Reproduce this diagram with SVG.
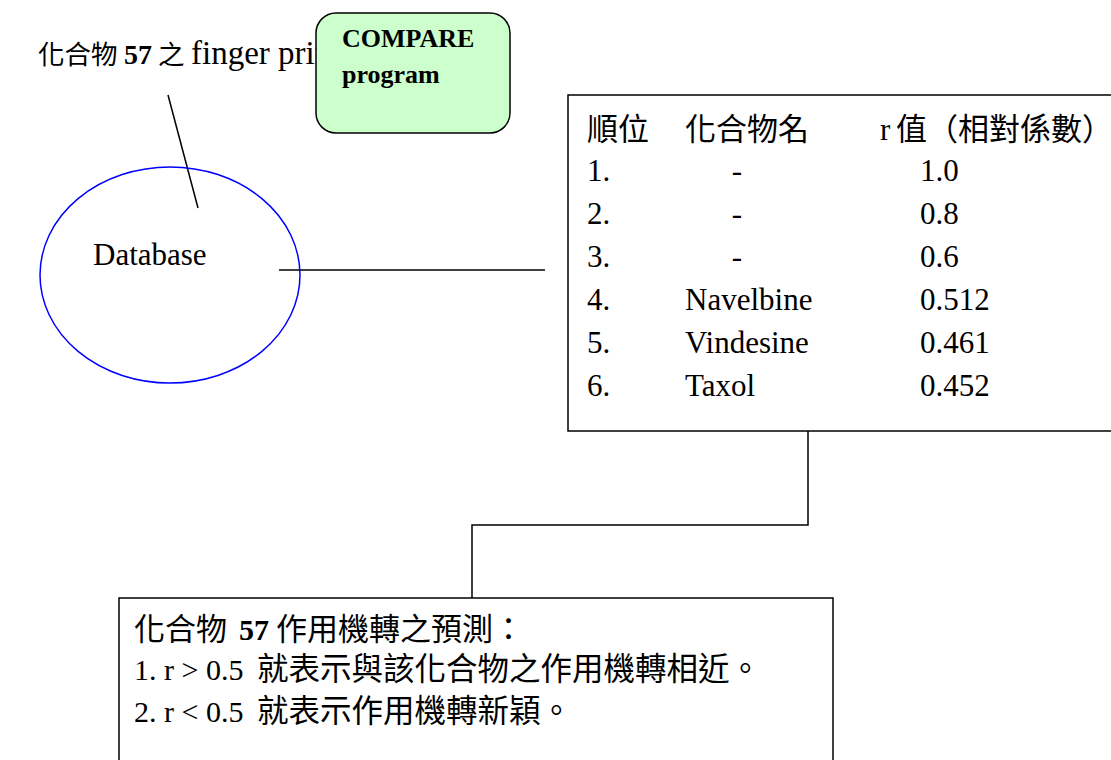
<svg xmlns="http://www.w3.org/2000/svg" width="1111" height="760" viewBox="0 0 1111 760">
<style>
.t{font-family:"Liberation Serif","Noto Sans CJK TC",serif;fill:#000}
.c{font-family:"Noto Sans CJK TC","Noto Sans CJK SC",sans-serif;fill:#000}
.b{font-weight:bold}
.ln{stroke:#000;stroke-width:1.5;fill:none}
</style>
<rect width="1111" height="760" fill="#fff"/>
<g id="title">
<text class="c" x="38" y="64" font-size="26.5">化合物</text>
<text class="t b" x="124" y="64" font-size="28">57</text>
<text class="c" x="158" y="64" font-size="26.5">之</text>
<text class="t" x="191" y="64" font-size="33">finger print</text>
</g>
<g id="connectors">
<line class="ln" x1="168" y1="95" x2="198" y2="208"/>
<line class="ln" x1="279" y1="270" x2="545" y2="270"/>
<polyline class="ln" points="808,431 808,525 472,525 472,598"/>
</g>
<g id="compare">
<rect x="316" y="13" width="194" height="120" rx="20" fill="#ccffcc" stroke="#000" stroke-width="1.5"/>
<text class="t b" x="342" y="47" font-size="26">COMPARE</text>
<text class="t b" x="342" y="83" font-size="26">program</text>
</g>
<g id="database">
<ellipse cx="170" cy="275" rx="130" ry="108" fill="none" stroke="#0000ff" stroke-width="1.5"/>
<text class="t" x="93" y="265" font-size="31">Database</text>
</g>
<g id="table">
<rect x="568" y="95" width="560" height="336" fill="#fff" stroke="#000" stroke-width="1.5"/>
<g font-size="31">
<text class="c" x="587" y="140">順位</text>
<text class="c" x="685" y="140">化合物名</text>
<text class="t" x="880" y="140">r</text>
<text class="c" x="896" y="140">值（相對係數）</text>
</g>
<g class="t" font-size="31">
<text x="587" y="181">1.</text><text x="737" y="181" text-anchor="middle">-</text><text x="920" y="181">1.0</text>
<text x="587" y="224">2.</text><text x="737" y="224" text-anchor="middle">-</text><text x="920" y="224">0.8</text>
<text x="587" y="267">3.</text><text x="737" y="267" text-anchor="middle">-</text><text x="920" y="267">0.6</text>
<text x="587" y="310">4.</text><text x="685" y="310">Navelbine</text><text x="920" y="310">0.512</text>
<text x="587" y="353">5.</text><text x="685" y="353">Vindesine</text><text x="920" y="353">0.461</text>
<text x="587" y="396">6.</text><text x="685" y="396">Taxol</text><text x="920" y="396">0.452</text>
</g>
</g>
<g id="prediction">
<rect x="119" y="598" width="714" height="180" fill="#fff" stroke="#000" stroke-width="1.5"/>
<text class="c" x="134" y="640" font-size="31">化合物</text>
<text class="t b" x="239" y="640" font-size="30">57</text>
<text class="c" x="276" y="640" font-size="31">作用機轉之預測：</text>
<text class="t" x="134" y="680" font-size="30">1. r &gt; 0.5</text>
<text class="c" x="257" y="680" font-size="31.5">就表示與該化合物之作用機轉相近。</text>
<text class="t" x="134" y="722" font-size="30">2. r &lt; 0.5</text>
<text class="c" x="257" y="722" font-size="31.5">就表示作用機轉新穎。</text>
</g>
</svg>
